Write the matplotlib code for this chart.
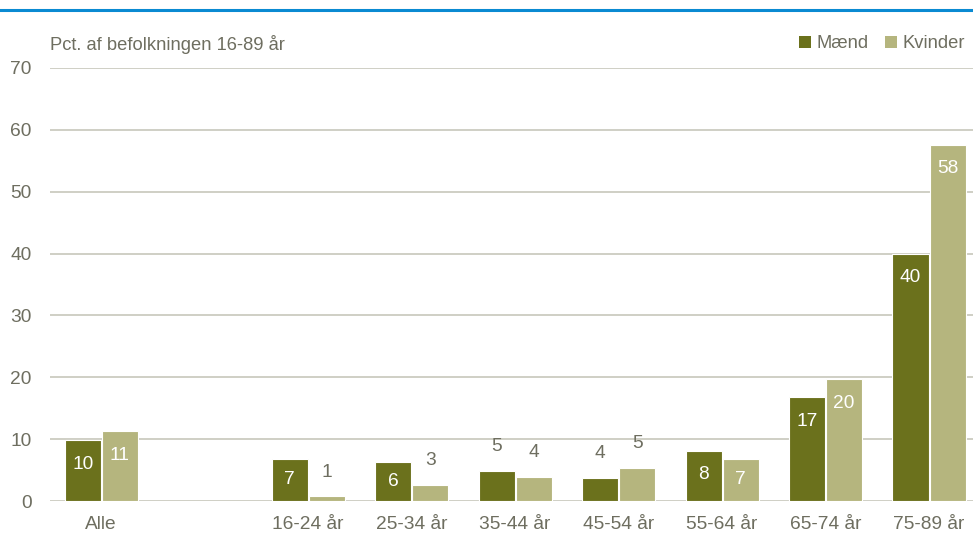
import numpy as np
import matplotlib
matplotlib.use("Agg")
import matplotlib.pyplot as plt
from matplotlib.patches import Patch
from matplotlib.lines import Line2D

categories = ["Alle", "", "16-24 år", "25-34 år", "35-44 år", "45-54 år",
              "55-64 år", "65-74 år", "75-89 år"]
maend = [9.85, np.nan, 6.8, 6.35, 4.85, 3.76, 8.1, 16.8, 40.0]
kvinder = [11.3, np.nan, 0.8, 2.6, 3.9, 5.4, 6.8, 19.7, 57.6]
series_names = ["Mænd", "Kvinder"]
y_ticks = [0, 10, 20, 30, 40, 50, 60, 70]
y_title = "Pct. af befolkningen 16-89 år"

C_M = "#6b711c"
C_K = "#b5b57e"
C_TXT = "#6e6e60"
C_GRID = "#cbcbc0"
FONT = ["Liberation Sans", "DejaVu Sans"]
plt.rcParams["font.family"] = FONT
FS = 13.2

W, H = 973, 540
fig = plt.figure(figsize=(W / 100, H / 100), dpi=100)
ax_left, ax_right = 49.5 / W, 1.0
ax_bot, ax_top = 1 - 501 / H, 1 - 68 / H
ax = fig.add_axes([ax_left, ax_bot, ax_right - ax_left, ax_top - ax_bot])

x = np.arange(len(categories))
bw = 0.348
xm = x - bw / 2 - 0.005
xk = x + bw / 2 + 0.005
ax.bar(xm, maend, bw, color=C_M, edgecolor="white", linewidth=0.8, zorder=3)
ax.bar(xk, kvinder, bw, color=C_K, edgecolor="white", linewidth=0.8, zorder=3)

ax.set_xlim(-0.5, 8.425)
ax.set_ylim(0, 70)
ax.set_yticks(y_ticks)
ax.set_yticklabels([str(t) for t in y_ticks])
ax.set_xticks(x)
ax.set_xticklabels(categories)
ax.grid(axis="y", color=C_GRID, linewidth=1.3, zorder=0)
ax.set_axisbelow(True)
for s in ax.spines.values():
    s.set_visible(False)
ax.tick_params(axis="both", length=0, labelsize=FS + 0.6, colors=C_TXT)
ax.tick_params(axis="y", pad=13)
ax.tick_params(axis="x", pad=11)

px_per_unit = (ax_top - ax_bot) * H / 70.0
for xs, vals in ((xm, maend), (xk, kvinder)):
    for xi, v in zip(xs, vals):
        if np.isnan(v):
            continue
        lab = f"{v:.0f}"
        hpx = v * px_per_unit
        if v >= 6:
            dy = -min(24, hpx / 2)
            col = "white"
        else:
            dy = 24
            col = C_TXT
        ax.annotate(lab, (xi, v), xytext=(0, dy), textcoords="offset pixels",
                    ha="center", va="center", fontsize=FS + 0.6, color=col, zorder=5)

fig.text(50 / W, 1 - 44 / H, y_title, ha="left", va="center", fontsize=FS, color=C_TXT)

handles = [Patch(facecolor=C_M, edgecolor="none"), Patch(facecolor=C_K, edgecolor="none")]
fig.legend(handles, series_names, loc="center right", bbox_to_anchor=(965 / W, 1 - 44 / H),
           ncol=2, frameon=False, fontsize=FS, labelcolor=C_TXT, borderpad=0, borderaxespad=0,
           handlelength=0.65, handleheight=0.65, handletextpad=0.3, columnspacing=0.9)

fig.add_artist(Line2D([0, 1], [1 - 10 / H, 1 - 10 / H], transform=fig.transFigure,
                      color="#0a8ad2", linewidth=2.2))

fig.savefig("out.png", dpi=100)
